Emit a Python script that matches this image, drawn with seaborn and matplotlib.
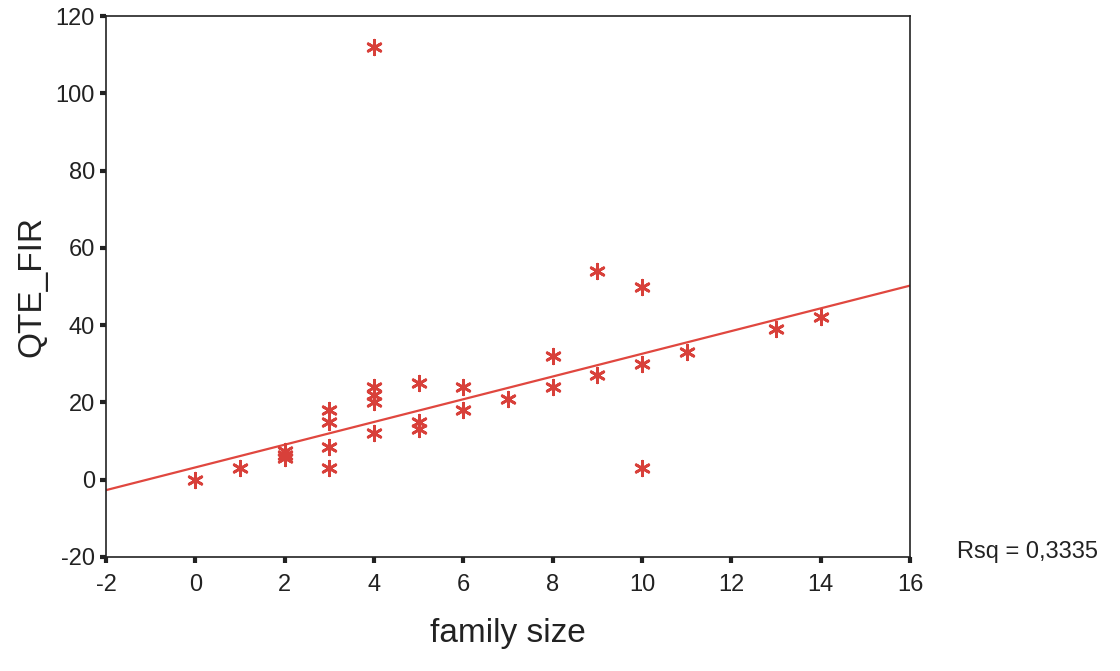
import numpy as np
import pandas as pd
import matplotlib
matplotlib.use("Agg")
import matplotlib.pyplot as plt
import seaborn as sns

# values
family_size = [0, 1, 2, 2, 2, 3, 3, 3, 3, 4, 4, 4, 4, 4, 5, 5, 5,
               6, 6, 7, 8, 8, 9, 9, 10, 10, 10, 11, 13, 14]
qte_fir = [0, 3, 7.5, 6.5, 5.5, 18, 15, 8.5, 3, 112, 24, 22, 20, 12, 25, 15, 13,
           24, 18, 21, 32, 24, 54, 27, 50, 30, 3, 33, 39, 42]
x_ticks = [-2, 0, 2, 4, 6, 8, 10, 12, 14, 16]
y_ticks = [-20, 0, 20, 40, 60, 80, 100, 120]
rsq_label = "Rsq = 0,3335"

df = pd.DataFrame({"family size": family_size, "QTE_FIR": qte_fir})
# the printed fit line follows the bulk of the data (outlier at 112 left out)
fit_df = df[df["QTE_FIR"] < 100]

sns.set_style("white")
plt.rcParams["font.family"] = ["Liberation Sans", "DejaVu Sans"]
plt.rcParams["axes.unicode_minus"] = False

red = "#d8403a"

fig = plt.figure(figsize=(11.2, 6.71), dpi=100)
ax = fig.add_axes([0.0946, 0.170, 0.718, 0.806])
ax.set_xlim(-2, 16)
ax.set_ylim(-20, 120)

sns.scatterplot(data=df, x="family size", y="QTE_FIR", ax=ax, marker=(6, 2, 0),
                s=110, color=red, edgecolor=red, linewidth=2.0, zorder=3)
sns.regplot(data=fit_df, x="family size", y="QTE_FIR", ax=ax, scatter=False, ci=None,
            truncate=False, line_kws={"color": "#e0473f", "linewidth": 1.6})

ax.set_xlim(-2, 16)
ax.set_ylim(-20, 120)
ax.set_xticks(x_ticks)
ax.set_yticks(y_ticks)
ax.tick_params(axis="both", direction="out", length=4, width=3, color="#222222",
               labelsize=17, bottom=True, left=True, labelcolor="#222222")
ax.tick_params(axis="x", pad=8)
ax.tick_params(axis="y", pad=4)
for sp in ax.spines.values():
    sp.set_color("#222222")
    sp.set_linewidth(1.2)

ax.set_xlabel("family size", fontsize=24, labelpad=16, color="#222222")
ax.set_ylabel("QTE_FIR", fontsize=24, labelpad=6, color="#222222")

fig.text(957 / 1120, 1 - 552 / 671, rsq_label, fontsize=17, va="center", ha="left",
         color="#222222")

fig.savefig("out.png", dpi=100)
